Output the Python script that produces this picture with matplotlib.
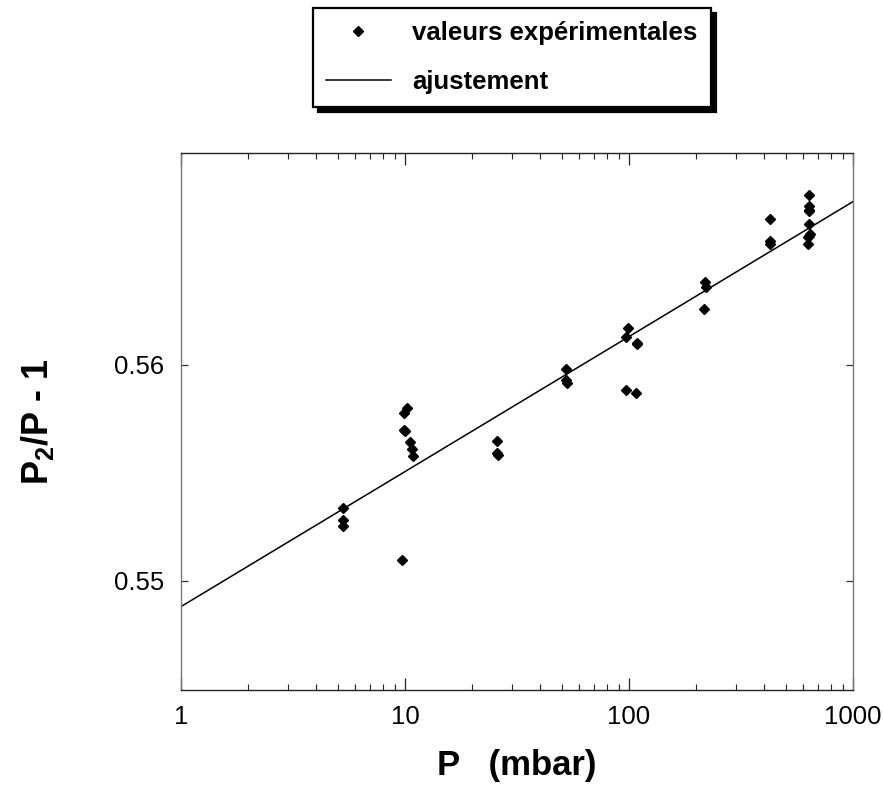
import numpy as np
import matplotlib
matplotlib.use("Agg")
import matplotlib.pyplot as plt
from matplotlib.ticker import FixedLocator, LogLocator, NullFormatter, FixedFormatter

plt.rcParams['font.family'] = ['Liberation Sans', 'DejaVu Sans']
plt.rcParams['mathtext.fontset'] = 'custom'
plt.rcParams['mathtext.rm'] = 'Liberation Sans:bold'
plt.rcParams['mathtext.it'] = 'Liberation Sans:bold'
plt.rcParams['mathtext.bf'] = 'Liberation Sans:bold'

# ---- data ----
pressure = [5.27, 5.27, 5.27,
            9.7, 10.2, 9.88, 9.88, 10.0, 10.53, 10.72, 10.87,
            25.7, 25.7, 25.9,
            52.3, 52.1, 52.8,
            98.9, 97.1, 108.4, 108.9, 97.1, 107.4,
            218.4, 220.0, 217.0,
            428.0, 424.0, 426.0,
            635.0, 635.0, 635.0, 635.0, 638.0, 640.0, 635.0, 628.0, 630.0]
ratio = [0.55337, 0.55282, 0.55254,
         0.55096, 0.55802, 0.55777, 0.55698, 0.55695, 0.55644, 0.55611, 0.55579,
         0.55645, 0.55591, 0.55584,
         0.55982, 0.55929, 0.55917,
         0.56170, 0.56129, 0.56099, 0.56094, 0.55884, 0.55870,
         0.56384, 0.56360, 0.56259,
         0.56673, 0.56571, 0.56559,
         0.56784, 0.56734, 0.56718, 0.56710, 0.56652, 0.56607, 0.56597, 0.56591, 0.56561]

fit_intercept = 0.54881   # value at P = 1 mbar
fit_slope = 0.006247      # per decade
fit_range = [1, 1000]

x_ticks = [1, 10, 100, 1000]
x_ticklabels = ['1', '10', '100', '1000']
y_ticks = [0.55, 0.56]
y_ticklabels = ['0.55', '0.56']

# ---- figure ----
W, H = 883, 796
fig = plt.figure(figsize=(W / 100, H / 100), dpi=100)
ax = fig.add_axes([181 / W, 1 - 690 / H, (853 - 181) / W, (690 - 153) / H])

p_fit = np.logspace(np.log10(fit_range[0]), np.log10(fit_range[1]), 200)
ax.plot(p_fit, fit_intercept + fit_slope * np.log10(p_fit), color='black', lw=1.1,
        label='ajustement', zorder=2)
ax.plot(pressure, ratio, linestyle='none', marker='D', ms=5.5, color='black',
        label='valeurs expérimentales', zorder=3)

ax.set_xscale('log')
ax.set_xlim(1, 1000)
ax.set_ylim(0.54495, 0.5698)

ax.xaxis.set_major_locator(FixedLocator(x_ticks))
ax.xaxis.set_major_formatter(FixedFormatter(x_ticklabels))
ax.xaxis.set_minor_locator(LogLocator(base=10, subs=np.arange(2, 10)))
ax.xaxis.set_minor_formatter(NullFormatter())
ax.yaxis.set_major_locator(FixedLocator(y_ticks))
ax.yaxis.set_major_formatter(FixedFormatter(y_ticklabels))

ax.tick_params(axis='x', which='major', direction='in', length=8.6, width=0.9,
               top=True, bottom=True, labelsize=18.5, pad=11, colors='#222222')
ax.tick_params(axis='x', which='minor', direction='in', length=4.3, width=0.8,
               top=True, bottom=True, colors='#222222')
ax.tick_params(axis='y', which='major', direction='in', length=5, width=0.9,
               left=True, right=True, labelsize=18.5, pad=12, colors='#333333')
for lab in ax.get_xticklabels() + ax.get_yticklabels():
    lab.set_color('black')

for side in ['top', 'bottom']:
    ax.spines[side].set_color('#222222')
    ax.spines[side].set_linewidth(1.0)
for side in ['left', 'right']:
    ax.spines[side].set_color('#777777')
    ax.spines[side].set_linewidth(1.0)

ax.set_xlabel('P   (mbar)', fontsize=25, fontweight='bold', labelpad=14)
ax.set_ylabel('P$_2$/P - 1', fontsize=26, fontweight='bold', labelpad=42)

handles, labels = ax.get_legend_handles_labels()
order = [1, 0]
leg = fig.legend([handles[i] for i in order], [labels[i] for i in order],
                 loc='upper left', bbox_to_anchor=(313 / W, 1 - 8 / H),
                 bbox_transform=fig.transFigure,
                 prop={'family': 'Liberation Sans', 'weight': 'bold', 'size': 18.5},
                 frameon=True, fancybox=False,
                 shadow={'ox': 3.5, 'oy': -3.5, 'color': 'black', 'alpha': 1.0},
                 borderpad=0.52, labelspacing=0.96, handlelength=2.5,
                 handletextpad=0.85, borderaxespad=0, markerscale=1.0)
leg.get_frame().set_edgecolor('black')
leg.get_frame().set_linewidth(1.6)
leg.get_frame().set_alpha(1)

fig.savefig('out.png', dpi=100)
